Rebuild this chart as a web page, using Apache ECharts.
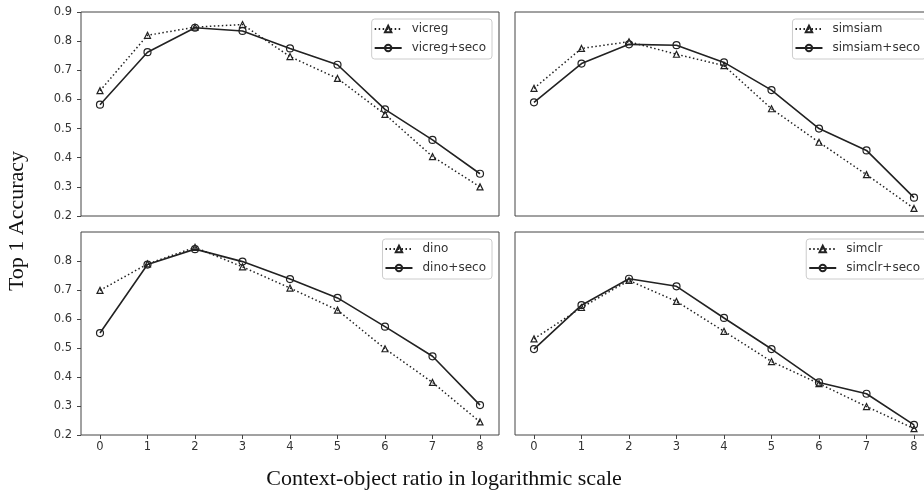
<!DOCTYPE html>
<html>
<head>
<meta charset="utf-8">
<script src="https://cdn.jsdelivr.net/npm/echarts@6/dist/echarts.min.js"></script>
<style>
  html, body { margin: 0; padding: 0; background: #fff; }
  #main { width: 924px; height: 494px; }
</style>
</head>
<body>
<div id="main"></div>
<script>
// context-object ratio (log scale), x positions
var xValues = [0, 1, 2, 3, 4, 5, 6, 7, 8]
var xTicks = [0, 1, 2, 3, 4, 5, 6, 7, 8]
var yTicksTop = [0.2, 0.3, 0.4, 0.5, 0.6, 0.7, 0.8, 0.9]
var yTicksBottom = [0.2, 0.3, 0.4, 0.5, 0.6, 0.7, 0.8]

var vicreg = [0.630, 0.820, 0.848, 0.857, 0.747, 0.672, 0.549, 0.404, 0.300]
var vicregSeco = [0.582, 0.762, 0.846, 0.835, 0.775, 0.719, 0.566, 0.461, 0.345]
var simsiam = [0.638, 0.775, 0.798, 0.755, 0.716, 0.568, 0.453, 0.342, 0.226]
var simsiamSeco = [0.590, 0.723, 0.789, 0.786, 0.727, 0.632, 0.500, 0.425, 0.263]
var dino = [0.698, 0.789, 0.846, 0.779, 0.706, 0.630, 0.497, 0.381, 0.245]
var dinoSeco = [0.551, 0.787, 0.840, 0.797, 0.737, 0.672, 0.573, 0.471, 0.303]
var simclr = [0.531, 0.639, 0.732, 0.660, 0.557, 0.453, 0.377, 0.298, 0.222]
var simclrSeco = [0.496, 0.647, 0.738, 0.712, 0.603, 0.496, 0.381, 0.342, 0.235]

var myechart = echarts.init(document.getElementById('main'))

var ink = '#222'
var frame = '#444'
var tickFont = { fontFamily: 'DejaVu Sans', fontSize: 11.5, color: '#333' }

function pairs(arr) {
  return xValues.map(function (x, i) { return [x, arr[i]] })
}

// dotted line + triangles for baseline, solid line + circles for +seco
function baseSeries(name, arr, idx) {
  return {
    name: name,
    type: 'line',
    xAxisIndex: idx,
    yAxisIndex: idx,
    data: pairs(arr),
    symbol: 'triangle',
    symbolSize: 6,
    lineStyle: { color: ink, width: 1.5, type: [1.5, 2.5] },
    itemStyle: { color: 'transparent', borderColor: ink, borderWidth: 1.2 },
    emphasis: { disabled: true }
  }
}
function secoSeries(name, arr, idx) {
  return {
    name: name,
    type: 'line',
    xAxisIndex: idx,
    yAxisIndex: idx,
    data: pairs(arr),
    symbol: 'circle',
    symbolSize: 7,
    lineStyle: { color: ink, width: 1.6 },
    itemStyle: { color: 'transparent', borderColor: ink, borderWidth: 1.2 },
    emphasis: { disabled: true }
  }
}

function xAxis(idx, showLabels) {
  return {
    type: 'value',
    gridIndex: idx,
    min: -0.4,
    max: 8.4,
    splitLine: { show: false },
    axisLine: { show: false, onZero: false },
    axisTick: { show: showLabels, length: 4, lineStyle: { color: frame }, customValues: xTicks },
    axisLabel: { show: showLabels, margin: 6, customValues: xTicks, textStyle: tickFont }
  }
}
function yAxis(idx, showLabels, max, ticks) {
  return {
    type: 'value',
    gridIndex: idx,
    min: 0.2,
    max: max,
    splitLine: { show: false },
    axisLine: { show: false, onZero: false },
    axisTick: { show: showLabels, length: 4, lineStyle: { color: frame }, customValues: ticks },
    axisLabel: {
      show: showLabels,
      margin: 9,
      customValues: ticks,
      formatter: function (v) { return v.toFixed(1) },
      textStyle: tickFont
    }
  }
}

function legend(names, right, top) {
  return {
    data: names,
    orient: 'vertical',
    right: right,
    top: top,
    selectedMode: false,
    padding: [4, 6, 5, 2],
    itemWidth: 27,
    itemHeight: 8,
    itemGap: 7,
    backgroundColor: 'rgba(255,255,255,0.8)',
    borderColor: '#ccc',
    borderWidth: 1,
    borderRadius: 3,
    textStyle: { fontFamily: 'DejaVu Sans', fontSize: 12, color: '#333', padding: [0, 0, 0, 5] }
  }
}

var gridStyle = { show: true, borderColor: frame, borderWidth: 1, backgroundColor: 'transparent', outerBoundsMode: 'none' }

var option = {
  animation: false,
  grid: [
    Object.assign({ left: 81, top: 12, width: 418, height: 204 }, gridStyle),
    Object.assign({ left: 515, top: 12, width: 418, height: 204 }, gridStyle),
    Object.assign({ left: 81, top: 232, width: 418, height: 203 }, gridStyle),
    Object.assign({ left: 515, top: 232, width: 418, height: 203 }, gridStyle)
  ],
  xAxis: [xAxis(0, false), xAxis(1, false), xAxis(2, true), xAxis(3, true)],
  yAxis: [
    yAxis(0, true, 0.9, yTicksTop),
    yAxis(1, false, 0.9, yTicksTop),
    yAxis(2, true, 0.899, yTicksBottom),
    yAxis(3, false, 0.899, yTicksBottom)
  ],
  legend: [
    legend(['vicreg', 'vicreg+seco'], 432, 19),
    legend(['simsiam', 'simsiam+seco'], -2, 19),
    legend(['dino', 'dino+seco'], 432, 239),
    legend(['simclr', 'simclr+seco'], -2, 239)
  ],
  graphic: [
    {
      type: 'text',
      x: 17,
      y: 221,
      rotation: Math.PI / 2,
      style: {
        text: 'Top 1 Accuracy',
        fontFamily: 'Liberation Serif',
        fontSize: 22,
        fill: '#111',
        align: 'center',
        verticalAlign: 'middle'
      }
    },
    {
      type: 'text',
      x: 444,
      y: 479,
      style: {
        text: 'Context-object ratio in logarithmic scale',
        fontFamily: 'Liberation Serif',
        fontSize: 22,
        fill: '#111',
        align: 'center',
        verticalAlign: 'middle'
      }
    }
  ],
  series: [
    baseSeries('vicreg', vicreg, 0),
    secoSeries('vicreg+seco', vicregSeco, 0),
    baseSeries('simsiam', simsiam, 1),
    secoSeries('simsiam+seco', simsiamSeco, 1),
    baseSeries('dino', dino, 2),
    secoSeries('dino+seco', dinoSeco, 2),
    baseSeries('simclr', simclr, 3),
    secoSeries('simclr+seco', simclrSeco, 3)
  ]
}

myechart.setOption(option)
</script>
</body>
</html>
